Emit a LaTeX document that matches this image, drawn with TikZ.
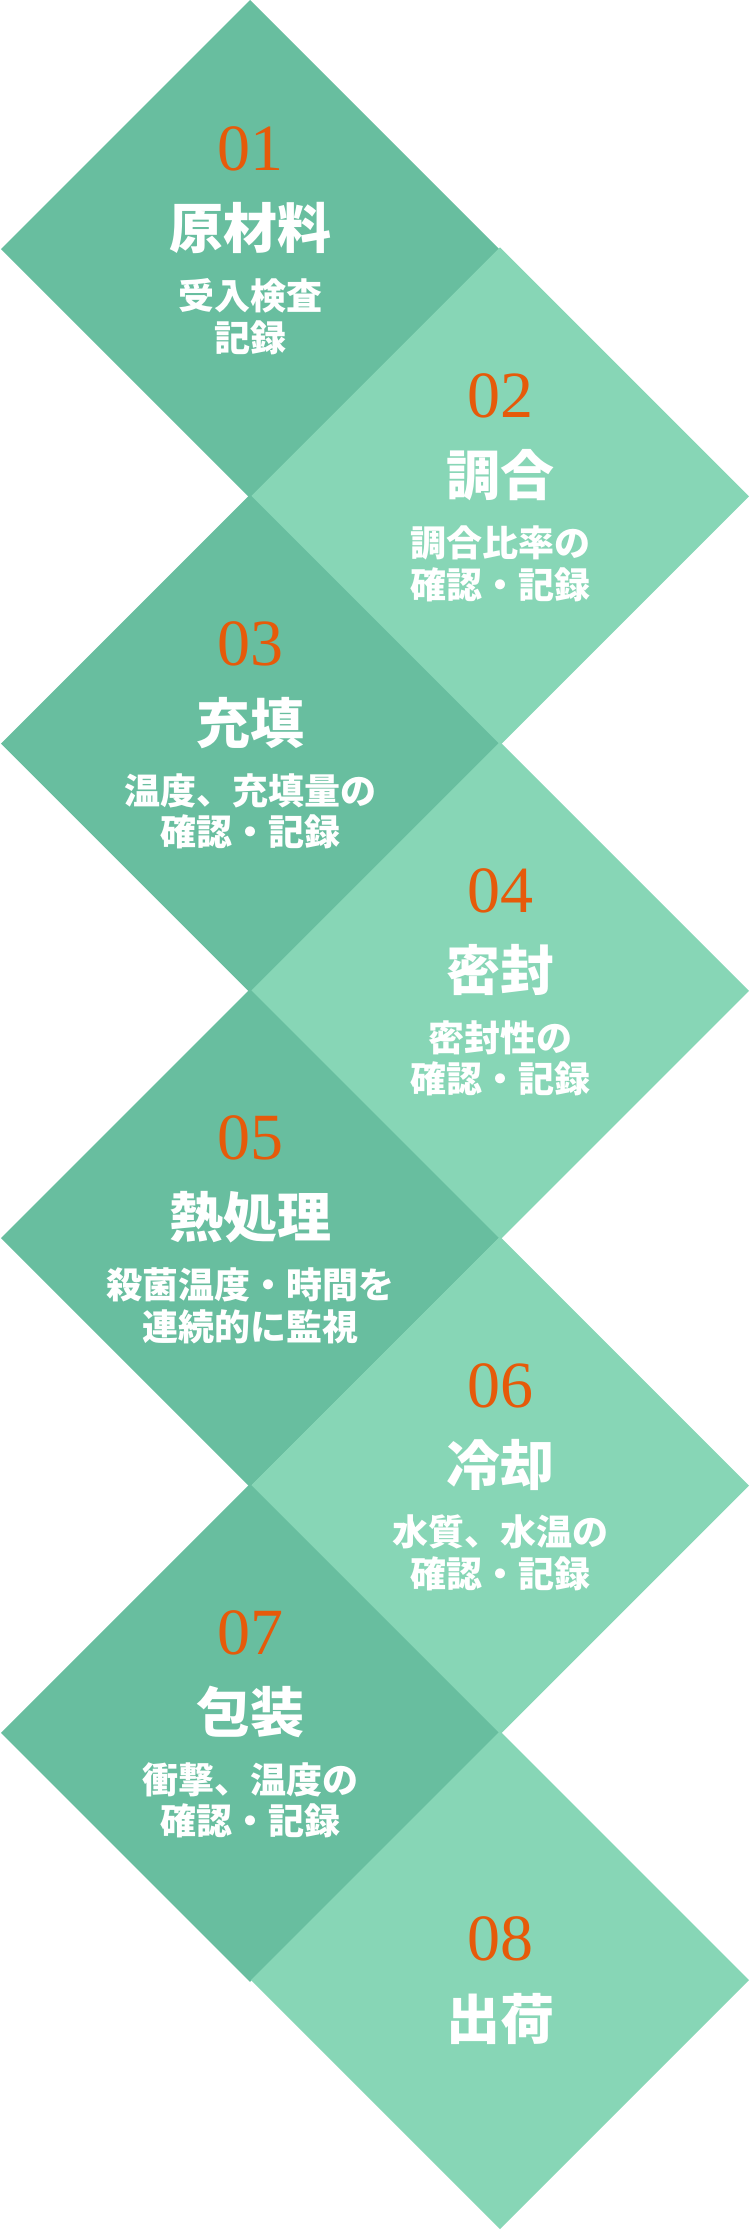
\documentclass[tikz,border=0pt]{standalone}
\usepackage{fontspec}
\usetikzlibrary{calc}
\newfontfamily\cjk{Noto Sans CJK JP}
\newfontfamily\numfont{Liberation Serif}
\definecolor{darkgreen}{HTML}{68BE9F}
\definecolor{lightgreen}{HTML}{87D6B6}
\definecolor{numorange}{HTML}{E65A0A}
\tikzset{
  darkdiam/.style={fill=darkgreen},
  lightdiam/.style={fill=lightgreen},
  numtext/.style={inner sep=0pt, text=numorange, font=\numfont\fontsize{66}{66}\selectfont},
  titletext/.style={inner sep=0pt, text=white, font=\cjk\bfseries\fontsize{54}{60}\selectfont},
  subtext/.style={inner sep=0pt, text=white, align=center, font=\cjk\bfseries\fontsize{36}{41.5}\selectfont}
}
\newcommand{\mydiam}[4]{% name, cx, cy, style
  \coordinate (#1) at (#2,#3);
  \fill[#4] ($(#1)+(0,-249)$) -- ($(#1)+(249,0)$) -- ($(#1)+(0,249)$) -- ($(#1)+(-249,0)$) -- cycle;
}
\newcommand{\mystep}[4]{% name, number, title, subtitle
  \node[numtext] (#1n) at ($(#1)+(0,-100)$) {#2};
  \node[titletext] (#1t) at ($(#1)+(0,-21)$) {#3};
  \node[subtext] (#1s) at ($(#1)+(0,67.5)$) {#4};
}
\begin{document}
\begin{tikzpicture}[x=1pt,y=-1pt]
\useasboundingbox (0,0) rectangle (750,2230);
\mydiam{d1}{250}{249}{darkdiam}
\mydiam{d2}{500}{496.3}{lightdiam}
\mydiam{d3}{250}{743.6}{darkdiam}
\mydiam{d4}{500}{990.9}{lightdiam}
\mydiam{d5}{250}{1238.2}{darkdiam}
\mydiam{d6}{500}{1485.5}{lightdiam}
\mydiam{d7}{250}{1732.8}{darkdiam}
\mydiam{d8}{500}{1980.1}{lightdiam}
\mystep{d1}{01}{原材料}{受入検査\\記録}
\mystep{d2}{02}{調合}{調合比率の\\確認・記録}
\mystep{d3}{03}{充填}{温度、充填量の\\確認・記録}
\mystep{d4}{04}{密封}{密封性の\\確認・記録}
\mystep{d5}{05}{熱処理}{殺菌温度・時間を\\連続的に監視}
\mystep{d6}{06}{冷却}{水質、水温の\\確認・記録}
\mystep{d7}{07}{包装}{衝撃、温度の\\確認・記録}
\node[numtext] (d8n) at ($(d8)+(0,-41)$) {08};
\node[titletext] (d8t) at ($(d8)+(0,39)$) {出荷};
\end{tikzpicture}
\end{document}
